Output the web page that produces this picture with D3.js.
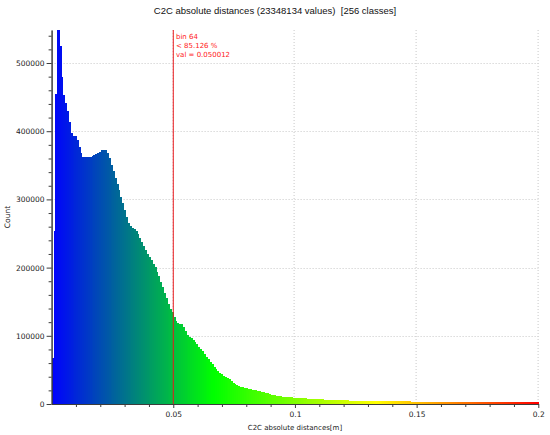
<!DOCTYPE html>
<html>
<head>
<meta charset="utf-8">
<script src="https://cdn.jsdelivr.net/npm/d3@7"></script>
<style>
    html, body { margin: 0; padding: 0; background: #fff; }
    svg { display: block; }
</style>
</head>
<body>
<div id="vis-histogram"></div>
<script>
// histogram data: C2C absolute distances, 256 classes between 0 and 0.2 m
const chartTitle = "C2C absolute distances (23348134 values)  [256 classes]";
const xLabel = "C2C absolute distances[m]";
const yLabel = "Count";
const xMin = 0;
const xMax = 0.2;

// counts per class
const binCounts = [
    67000, 253000, 455000, 548400, 525000, 480000, 453000, 441000, 430000, 414000, 398000, 393000, 393000, 387000, 377000, 368000,
    362000, 361500, 361500, 362000, 362500, 363500, 364500, 366000, 368000, 370000, 372000, 372500, 372000, 368000, 360000, 351000,
    341000, 332000, 323000, 314000, 303000, 294000, 284000, 274000, 266000, 261000, 258500, 256000, 253000, 249000, 244000, 238000,
    231500, 226000, 220000, 215000, 211000, 206000, 201000, 194000, 188000, 179000, 172000, 163000, 155000, 146500, 140000, 135000,
    128000, 122000, 119000, 118000, 117000, 113000, 107000, 101000, 97900, 96300, 93800, 91400, 87500, 84000, 80600, 77600,
    73800, 69400, 66000, 62000, 58100, 54700, 51300, 48400, 45400, 43500, 41500, 40000, 38600, 36600, 34200, 31300,
    29300, 27800, 26400, 25400, 24400, 23900, 22900, 22500, 22000, 21000, 20500, 20000, 19000, 18600, 17600, 17100,
    16600, 15600, 14700, 13700, 13200, 12700, 12200, 11700, 11200, 10900, 10600, 10400, 10100, 9900, 9700, 9500,
    9300, 9000, 8800, 8600, 8400, 8200, 8000, 7800, 7600, 7400, 7300, 7100, 6900, 6800, 6600, 6500,
    6300, 6200, 6100, 6000, 5900, 5700, 5600, 5500, 5400, 5300, 5250, 5200, 5100, 5050, 5000, 4950,
    4900, 4800, 4750, 4700, 4650, 4600, 4550, 4500, 4480, 4450, 4400, 4350, 4300, 4250, 4200, 4150,
    4100, 4050, 4000, 3900, 3880, 3850, 3820, 3800, 3780, 3750, 3720, 3700, 3680, 3650, 3620, 3600,
    3580, 3550, 3520, 3500, 3480, 3450, 3420, 3400, 3400, 3370, 3340, 3310, 3280, 3250, 3220, 3190,
    3160, 3130, 3100, 3070, 3040, 3010, 2980, 2950, 2930, 2910, 2890, 2860, 2830, 2800, 2770, 2740,
    2710, 2680, 2650, 2620, 2590, 2560, 2530, 2500, 2480, 2460, 2440, 2420, 2400, 2390, 2380, 2370,
    2360, 2350, 2340, 2330, 2320, 2310, 2300, 2300, 2290, 2280, 2270, 2260, 2250, 2240, 2230, 2220
];

// axis ticks
const xMajorTicks = [0.05, 0.1, 0.15, 0.2];
const xMinorTicks = [0.01, 0.02, 0.03, 0.04, 0.06, 0.07, 0.08, 0.09, 0.11, 0.12, 0.13, 0.14, 0.16, 0.17, 0.18, 0.19];
const yMajorTicks = [0, 100000, 200000, 300000, 400000, 500000];
const yMinorTicks = [20000, 40000, 60000, 80000, 120000, 140000, 160000, 180000, 220000, 240000, 260000, 280000,
    320000, 340000, 360000, 380000, 420000, 440000, 460000, 480000, 520000, 540000];

// colour scale stops (Blue > Green > Yellow > Red)
const colorStops = ["#0000ff", "#00ff00", "#ffff00", "#ff0000"];

// marker at the selected class
const markerValue = 0.05;
const markerLines = ["bin 64", "< 85.126 %", "val = 0.050012"];

(function () {
    const svgWidth = 550;
    const svgHeight = 435;
    const margin = { top: 30, right: 11.7, bottom: 31, left: 51.6 };
    const width = svgWidth - margin.left - margin.right;
    const height = svgHeight - margin.top - margin.bottom;

    const tickFont = "DejaVu Sans, Verdana, sans-serif";

    const root = d3.select("#vis-histogram")
        .append("svg")
        .attr("width", svgWidth)
        .attr("height", svgHeight);

    // title, centred on the whole widget (keep the double space)
    root.append("text")
        .attr("x", svgWidth / 2)
        .attr("y", 14)
        .attr("text-anchor", "middle")
        .style("font-family", "Liberation Sans, Arial, sans-serif")
        .style("font-size", "9.5px")
        .style("white-space", "pre")
        .attr("fill", "#111")
        .text(chartTitle);

    const svg = root.append("g")
        .attr("transform", `translate(${margin.left},${margin.top})`);

    // scales
    const binWidth = (xMax - xMin) / binCounts.length;
    const bins = binCounts.map((c, i) => ({ x0: xMin + i * binWidth, x1: xMin + (i + 1) * binWidth, count: c }));

    const xScale = d3.scaleLinear().domain([xMin, xMax]).range([0, width]);
    const yScale = d3.scaleLinear().domain([0, d3.max(binCounts)]).range([height, 0]);
    const colorScale = d3.scaleLinear()
        .domain([xMin, xMin + (xMax - xMin) / 3, xMin + 2 * (xMax - xMin) / 3, xMax])
        .range(colorStops);

    // dotted grid
    const grid = svg.append("g").attr("class", "grid")
        .attr("stroke", "#c8c8c8")
        .attr("stroke-width", 1)
        .attr("stroke-dasharray", "1,2");
    grid.selectAll(".hgrid")
        .data(yMajorTicks.filter(d => d > 0))
        .enter().append("line")
        .attr("x1", 0).attr("x2", width)
        .attr("y1", d => Math.round(yScale(d)) + 0.5)
        .attr("y2", d => Math.round(yScale(d)) + 0.5);
    grid.selectAll(".vgrid")
        .data(xMajorTicks)
        .enter().append("line")
        .attr("y1", 0).attr("y2", height)
        .attr("x1", d => Math.round(xScale(d)) - 0.5)
        .attr("x2", d => Math.round(xScale(d)) - 0.5);

    // bars
    svg.selectAll(".bar")
        .data(bins)
        .enter()
        .append("rect")
        .attr("class", "bar")
        .attr("x", d => xScale(d.x0))
        .attr("width", d => xScale(d.x1) - xScale(d.x0) + 0.4)
        .attr("y", d => yScale(d.count))
        .attr("height", d => height - yScale(d.count))
        .attr("fill", d => colorScale((d.x0 + d.x1) / 2))
        .attr("shape-rendering", "crispEdges");

    // axes
    function styleAxis(g) {
        g.select(".domain").attr("stroke", "#3c3c3c");
        g.selectAll(".tick line").attr("stroke", "#3c3c3c");
        g.selectAll(".tick text")
            .attr("fill", "#222")
            .style("font-family", tickFont)
            .style("font-size", "7.5px");
    }

    svg.append("g")
        .attr("transform", `translate(0,${height})`)
        .call(d3.axisBottom(xScale).tickValues(xMinorTicks).tickSize(3).tickFormat("").tickSizeOuter(0))
        .call(styleAxis);

    svg.append("g")
        .attr("transform", `translate(0,${height})`)
        .call(d3.axisBottom(xScale).tickValues(xMajorTicks).tickSize(4).tickPadding(4).tickSizeOuter(0)
            .tickFormat(d => String(+d.toFixed(2))))
        .call(styleAxis);

    svg.append("g")
        .call(d3.axisLeft(yScale).tickValues(yMinorTicks).tickSize(3).tickFormat("").tickSizeOuter(0))
        .call(styleAxis);

    svg.append("g")
        .call(d3.axisLeft(yScale).tickValues(yMajorTicks).tickSize(5).tickPadding(2).tickSizeOuter(0)
            .tickFormat(d3.format("d")))
        .call(styleAxis);

    // axis labels
    svg.append("text")
        .attr("x", width / 2)
        .attr("y", height + 26)
        .attr("text-anchor", "middle")
        .style("font-family", tickFont)
        .style("font-size", "7px")
        .attr("fill", "#222")
        .text(xLabel);

    svg.append("text")
        .attr("transform", "rotate(-90)")
        .attr("x", -height / 2)
        .attr("y", -margin.left + 10)
        .attr("text-anchor", "middle")
        .style("font-family", tickFont)
        .style("font-size", "7.5px")
        .attr("fill", "#222")
        .text(yLabel);

    // selected class marker
    const mx = xScale(markerValue);
    svg.append("line")
        .attr("x1", mx).attr("x2", mx)
        .attr("y1", 0).attr("y2", height)
        .attr("stroke", "#e8181c")
        .attr("stroke-width", 1);

    svg.selectAll(".marker-label")
        .data(markerLines)
        .enter()
        .append("text")
        .attr("class", "marker-label")
        .attr("x", mx + 2.7)
        .attr("y", (d, i) => 9 + i * 9.2)
        .style("font-family", tickFont)
        .style("font-size", "7px")
        .attr("fill", "#ff2020")
        .text(d => d);
})();
</script>
</body>
</html>
